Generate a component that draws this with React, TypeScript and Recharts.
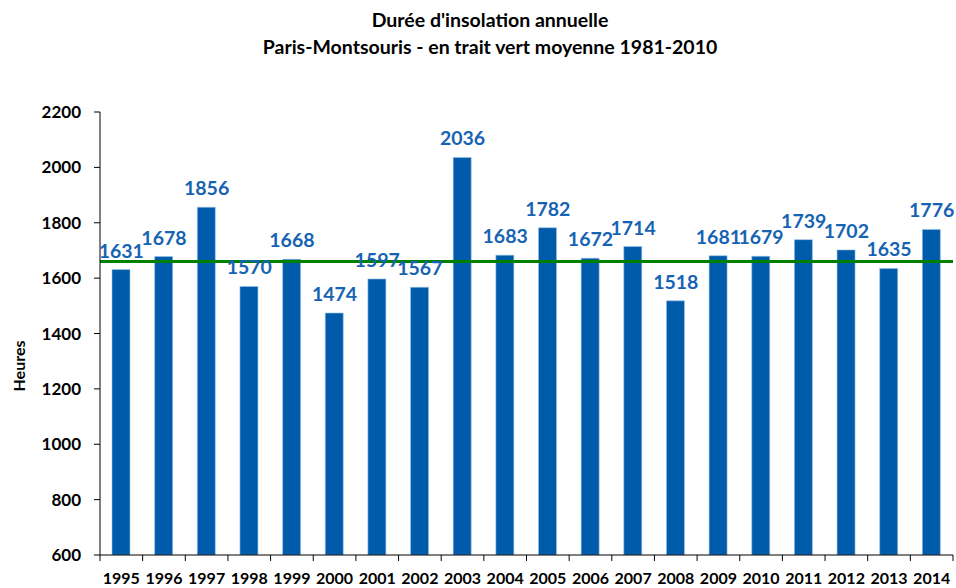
import { ComposedChart, Bar, Line, XAxis, YAxis, ReferenceLine, LabelList } from "recharts";

const BLUE = "#005BAB";
const LABEL_BLUE = "#1763B3";
const GREEN = "#008000";
const FONT = "Lato, 'Open Sans', sans-serif";

const YEARS = [
  "1995", "1996", "1997", "1998", "1999", "2000", "2001", "2002", "2003", "2004",
  "2005", "2006", "2007", "2008", "2009", "2010", "2011", "2012", "2013", "2014",
];
const HOURS = [
  1631, 1678, 1856, 1570, 1668, 1474, 1597, 1567, 2036, 1683,
  1782, 1672, 1714, 1518, 1681, 1679, 1739, 1702, 1635, 1776,
];
const Y_TICKS = [600, 800, 1000, 1200, 1400, 1600, 1800, 2000, 2200];
const NORMAL_1981_2010 = 1660;

const W = 956;
const H = 588;
const MARGIN = { top: 112, right: 3, left: 0, bottom: 0 };
const Y_W = 100;
const X_H = 33;
const BAND = (W - Y_W - MARGIN.right) / YEARS.length;
const X_TICK_SIZE = 6;
const X_TICK_MARGIN = 12;

const data = YEARS.map((year, i) => ({ year, hours: HOURS[i] }));

// year label + tick marks between categories (Excel style)
function YearTick(props: any) {
  const { x, y, payload, index } = props;
  const axisY = y - X_TICK_MARGIN - X_TICK_SIZE;
  const last = index === YEARS.length - 1;
  return (
    <g>
      <line x1={x - BAND / 2} y1={axisY} x2={x - BAND / 2} y2={axisY + X_TICK_SIZE} stroke="#000" />
      {last && (
        <line x1={x + BAND / 2} y1={axisY} x2={x + BAND / 2} y2={axisY + X_TICK_SIZE} stroke="#000" />
      )}
      <text x={x} y={y} dy="0.71em" textAnchor="middle"
        style={{ fontFamily: FONT, fontWeight: 700, fontSize: 16, fill: "#000" }}>
        {payload.value}
      </text>
    </g>
  );
}

export default function App() {
  return (
    <div style={{ position: "absolute", left: 0, top: 0, width: W, height: H, background: "#fff", fontFamily: FONT }}>
      <div style={{ position: "absolute", left: 0, width: 980, top: 6, textAlign: "center", fontWeight: 700, fontSize: 19.5, lineHeight: "27px", color: "#000" }}>
        <div>Durée d'insolation annuelle</div>
        <div>Paris-Montsouris - en trait vert moyenne 1981-2010</div>
      </div>
      <div style={{
        position: "absolute", left: 18, top: 366, transform: "translate(-50%, -50%) rotate(-90deg)",
        fontWeight: 700, fontSize: 16, color: "#000", whiteSpace: "nowrap",
      }}>
        Heures
      </div>
      <ComposedChart width={W} height={H} data={data} margin={MARGIN}>
        <XAxis dataKey="year" interval={0} height={X_H} tickLine={false}
          axisLine={{ stroke: "#000" }} tickSize={X_TICK_SIZE} tickMargin={X_TICK_MARGIN}
          tick={<YearTick />} />
        <YAxis domain={[600, 2200]} ticks={Y_TICKS} width={Y_W} allowDataOverflow
          axisLine={{ stroke: "#000" }} tickLine={{ stroke: "#000" }} tickSize={6} tickMargin={13}
          tick={{ fontFamily: FONT, fontWeight: 700, fontSize: 17, fill: "#000" }} />
        <Bar dataKey="hours" fill={BLUE} stroke="#9CC2E8" strokeWidth={0.6} barSize={18} isAnimationActive={false} />
        <ReferenceLine y={NORMAL_1981_2010} stroke={GREEN} strokeWidth={3} />
        <Line dataKey="hours" stroke="none" dot={false} activeDot={false} isAnimationActive={false}>
          <LabelList dataKey="hours" position="top" offset={12}
            style={{ fontFamily: FONT, fontWeight: 700, fontSize: 19.5, fill: LABEL_BLUE }} />
        </Line>
      </ComposedChart>
    </div>
  );
}
